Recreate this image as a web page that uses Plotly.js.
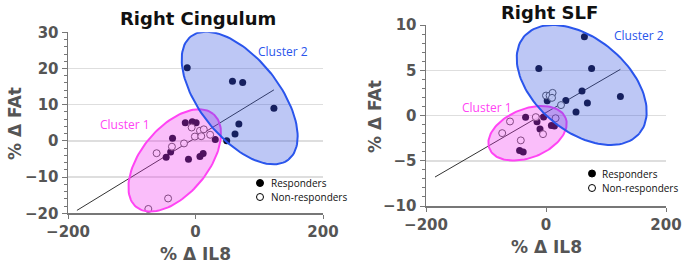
<!DOCTYPE html>
<html>
<head>
<meta charset="utf-8">
<script src="https://cdn.plot.ly/plotly-3.0.1.min.js"></script>
<style>
  html, body { margin: 0; padding: 0; background: #fff; }
  #chart { width: 685px; height: 266px; }
</style>
</head>
<body>
<div id="chart"></div>
<script>
// Right Cingulum (left panel)
const cingRespX = [-13, 58, 74, 123, 68, 62, 49, 31, -16, -5, 1, -36, -39, -46, -11, 7, 12];
const cingRespY = [20.2, 16.5, 16.1, 9.0, 4.7, 1.9, 0.05, 0.4, 5.0, 5.3, 5.0, 0.7, -3.1, -4.5, -5.1, -4.3, -3.5];
const cingNonX = [-61, -43, -74, -37, -18, -6, -1, 7, 13, 9, 23];
const cingNonY = [-3.4, -15.9, -18.8, -1.6, -0.7, 3.7, 1.2, 2.8, 3.2, 1.3, 1.7];
const cingFitX = [-186, 123];
const cingFitY = [-19.2, 14.1];

// Right SLF (right panel)
const slfRespX = [64, -12, 76, 60, 124, 33, 2, 69, 50, -34, -4, -15, -10, 9, 14, -44, -38];
const slfRespY = [8.7, 5.2, 5.2, 2.7, 2.1, 1.65, 1.62, 1.37, 0.4, -0.2, -0.16, -0.7, -1.5, -1.1, -1.15, -3.87, -4.02];
const slfNonX = [0, 6, 11, 10, 25, -60, -73, -42, -17, -5, 16];
const slfNonY = [2.2, 2.2, 2.5, 1.95, 1.15, -0.66, -1.95, -2.75, -0.18, -2.06, -0.3];
const slfFitX = [-185, 124];
const slfFitY = [-6.8, 5.1];

// cluster ellipses: centre, major and minor half-axis vectors (data units)
const clusterNames = ['Cluster 1', 'Cluster 2'];
const cingEllipses = [
  { c: [-32.6, -5.4], u: [60.4, 12.85], v: [-40.4, 5.88] },
  { c: [69.3, 11.85], u: [76.7, -17.0], v: [48.9, 6.84] }
];
const slfEllipses = [
  { c: [-30.8, -1.97], u: [63.5, 1.70], v: [-15.2, 2.49] },
  { c: [59.5, 3.37], u: [96.3, -5.34], v: [49.6, 3.93] }
];

const CLUSTER_FILL = ['rgba(240, 40, 240, 0.30)', 'rgba(50, 80, 225, 0.32)'];
const CLUSTER_LINE = ['#ff44f4', '#2a55ec'];
const TICK_COLOR = '#555';
const W = 685, H = 266;
const px = x => x / W;
const py = y => 1 - y / H;

function ellipseTrace(e, idx, xa, ya) {
  const xs = [], ys = [];
  for (let i = 0; i <= 120; i++) {
    const t = (i / 120) * 2 * Math.PI;
    xs.push(e.c[0] + e.u[0] * Math.cos(t) + e.v[0] * Math.sin(t));
    ys.push(e.c[1] + e.u[1] * Math.cos(t) + e.v[1] * Math.sin(t));
  }
  return {
    x: xs, y: ys, xaxis: xa, yaxis: ya,
    type: 'scatter', mode: 'lines', fill: 'toself',
    fillcolor: CLUSTER_FILL[idx],
    line: { color: CLUSTER_LINE[idx], width: 2 },
    hoverinfo: 'skip', showlegend: false
  };
}

function panelTraces(respX, respY, nonX, nonY, fitX, fitY, ellipses, xa, ya) {
  const traces = [];
  traces.push({
    x: fitX, y: fitY, xaxis: xa, yaxis: ya, type: 'scatter', mode: 'lines',
    line: { color: '#333', width: 1 }, hoverinfo: 'skip', showlegend: false
  });
  traces.push({
    x: respX, y: respY, xaxis: xa, yaxis: ya, type: 'scatter', mode: 'markers',
    marker: { size: 7, color: '#0a0a22', line: { width: 0 } }, showlegend: false
  });
  traces.push({
    x: nonX, y: nonY, xaxis: xa, yaxis: ya, type: 'scatter', mode: 'markers',
    marker: { size: 7, color: 'rgba(255,255,255,0.9)', line: { color: '#555', width: 1 } },
    showlegend: false
  });
  ellipses.forEach((e, i) => traces.push(ellipseTrace(e, i, xa, ya)));
  return traces;
}

const data = [
  ...panelTraces(cingRespX, cingRespY, cingNonX, cingNonY, cingFitX, cingFitY, cingEllipses, 'x', 'y'),
  ...panelTraces(slfRespX, slfRespY, slfNonX, slfNonY, slfFitX, slfFitY, slfEllipses, 'x2', 'y2')
];

const tickFont = { family: 'DejaVu Sans', size: 15, color: TICK_COLOR, weight: 'bold' };

function xAxis(domain, anchor) {
  return {
    domain, anchor, range: [-200, 200], tickvals: [-200, 0, 200],
    showgrid: false, zeroline: false, showline: true, linecolor: '#777', linewidth: 1.5,
    ticks: 'outside', ticklen: 4, tickcolor: '#777', tickfont: tickFont, fixedrange: true
  };
}
function yAxis(domain, anchor, range, dtick, minorDtick) {
  return {
    domain, anchor, range, dtick,
    showgrid: true, gridcolor: '#dedede', gridwidth: 1.5, zeroline: false,
    showline: true, linecolor: '#777', linewidth: 1.5,
    ticks: 'outside', ticklen: 5, tickcolor: '#777', tickfont: tickFont,
    minor: { dtick: minorDtick, ticks: 'outside', ticklen: 3, tickcolor: '#777', showgrid: false },
    fixedrange: true
  };
}

const labelFont = { family: 'DejaVu Sans', size: 17, color: TICK_COLOR, weight: 'bold' };
const titleFont = { family: 'DejaVu Sans', size: 18, color: '#111', weight: 'bold' };
const smallFont = { family: 'Open Sans', size: 10, color: '#111' };

function paperText(text, x, y, font, extra = {}) {
  return Object.assign({ text, x: px(x), y: py(y), xref: 'paper', yref: 'paper',
    showarrow: false, font, xanchor: 'center', yanchor: 'middle' }, extra);
}

const annotations = [
  paperText('Right Cingulum', 198, 18, titleFont),
  paperText('Right SLF', 549, 12, titleFont),
  paperText('% Δ IL8', 195, 254, labelFont),
  paperText('% Δ IL8', 546, 247, labelFont),
  paperText('% Δ FAt', 15, 124, labelFont, { textangle: -90 }),
  paperText('% Δ FAt', 375, 117, labelFont, { textangle: -90 }),
  { text: clusterNames[1], x: 138, y: 24.6, xref: 'x', yref: 'y', showarrow: false,
    font: { family: 'Open Sans', size: 12, color: CLUSTER_LINE[1] } },
  { text: clusterNames[0], x: -111, y: 4.4, xref: 'x', yref: 'y', showarrow: false,
    font: { family: 'Open Sans', size: 12, color: CLUSTER_LINE[0] } },
  { text: clusterNames[1], x: 155, y: 8.8, xref: 'x2', yref: 'y2', showarrow: false,
    font: { family: 'Open Sans', size: 12, color: CLUSTER_LINE[1] } },
  { text: clusterNames[0], x: -98, y: 0.85, xref: 'x2', yref: 'y2', showarrow: false,
    font: { family: 'Open Sans', size: 12, color: CLUSTER_LINE[0] } },
  paperText('Responders', 269, 183, smallFont, { xanchor: 'left' }),
  paperText('Non-responders', 269, 197, smallFont, { xanchor: 'left' }),
  paperText('Responders', 600, 173.5, smallFont, { xanchor: 'left' }),
  paperText('Non-responders', 600, 188, smallFont, { xanchor: 'left' })
];

function legendDot(cx, cy, filled) {
  const r = 3.5;
  return {
    type: 'circle', xref: 'paper', yref: 'paper',
    x0: px(cx - r), x1: px(cx + r), y0: py(cy + r), y1: py(cy - r),
    fillcolor: filled ? '#000' : '#fff', line: { color: '#000', width: 1 }
  };
}

const layout = {
  width: W, height: H,
  margin: { l: 0, r: 0, t: 0, b: 0 },
  paper_bgcolor: '#fff', plot_bgcolor: 'rgba(0,0,0,0)',
  showlegend: false,
  xaxis: xAxis([px(68), px(323)], 'y'),
  yaxis: yAxis([py(213.3), py(32.3)], 'x', [-20, 30], 10, 2),
  xaxis2: xAxis([px(426), px(666)], 'y2'),
  yaxis2: yAxis([py(206), py(25)], 'x2', [-10, 10], 5, 1),
  annotations,
  shapes: [legendDot(260, 183, true), legendDot(260, 197, false),
           legendDot(592, 173.5, true), legendDot(592, 188, false)]
};

Plotly.newPlot('chart', data, layout, { displayModeBar: false, staticPlot: true });
</script>
</body>
</html>
